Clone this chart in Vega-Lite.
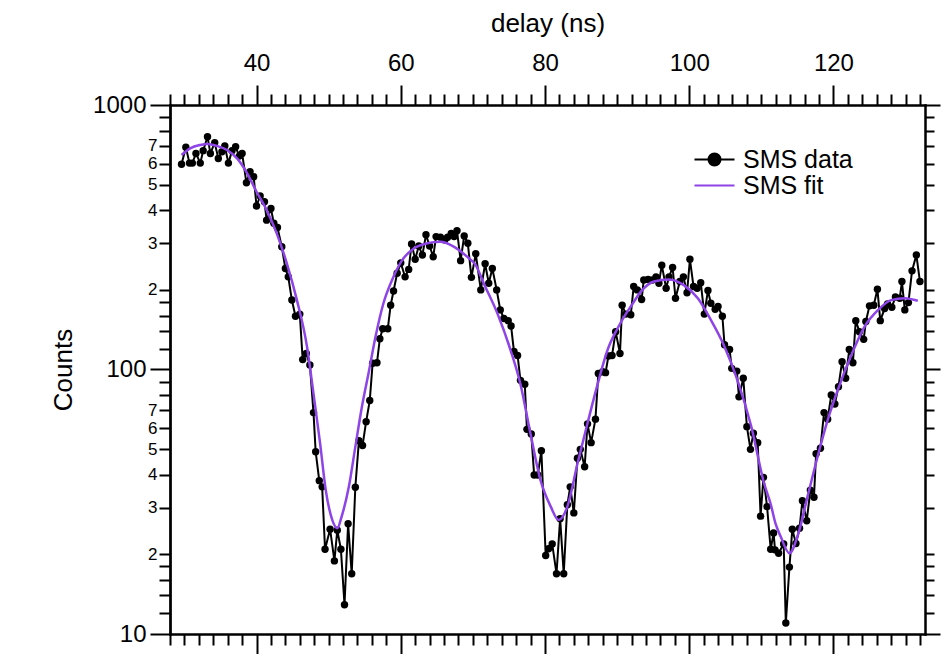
{
  "$schema": "https://vega.github.io/schema/vega-lite/v6.json",
  "width": 755,
  "height": 529,
  "autosize": {"type": "none"},
  "padding": {"left": 170, "top": 105, "right": 20, "bottom": 20},
  "background": "white",
  "datasets": {
    "obs": [
      {"delay": 29.6, "counts": 597}, {"delay": 30.2, "counts": 692}, {"delay": 30.7, "counts": 603}, {"delay": 31.1, "counts": 603},
      {"delay": 31.6, "counts": 656}, {"delay": 32.2, "counts": 603}, {"delay": 32.6, "counts": 672}, {"delay": 33.2, "counts": 759},
      {"delay": 33.6, "counts": 656}, {"delay": 34.2, "counts": 720}, {"delay": 34.7, "counts": 628}, {"delay": 35.2, "counts": 666},
      {"delay": 35.6, "counts": 700}, {"delay": 36.1, "counts": 603}, {"delay": 36.6, "counts": 672}, {"delay": 37.1, "counts": 695},
      {"delay": 37.6, "counts": 641}, {"delay": 38.0, "counts": 656}, {"delay": 38.6, "counts": 508}, {"delay": 39.1, "counts": 560},
      {"delay": 39.6, "counts": 536}, {"delay": 40.0, "counts": 415}, {"delay": 40.5, "counts": 453}, {"delay": 41.1, "counts": 431},
      {"delay": 41.4, "counts": 367}, {"delay": 42.0, "counts": 406}, {"delay": 42.4, "counts": 357}, {"delay": 42.9, "counts": 344},
      {"delay": 43.5, "counts": 291}, {"delay": 44.0, "counts": 241}, {"delay": 44.4, "counts": 224}, {"delay": 44.9, "counts": 183},
      {"delay": 45.4, "counts": 159}, {"delay": 46.0, "counts": 162}, {"delay": 46.4, "counts": 109}, {"delay": 46.9, "counts": 115},
      {"delay": 47.4, "counts": 104}, {"delay": 47.9, "counts": 68.7}, {"delay": 48.2, "counts": 48.9}, {"delay": 48.7, "counts": 38},
      {"delay": 49.1, "counts": 36}, {"delay": 49.5, "counts": 20.9}, {"delay": 50.2, "counts": 24.9}, {"delay": 50.8, "counts": 18.9},
      {"delay": 51.2, "counts": 24.7}, {"delay": 51.7, "counts": 20.9}, {"delay": 52.2, "counts": 12.9}, {"delay": 52.7, "counts": 26.1},
      {"delay": 53.2, "counts": 16.9}, {"delay": 53.7, "counts": 35.9}, {"delay": 54.2, "counts": 53.8}, {"delay": 54.7, "counts": 51.6},
      {"delay": 55.2, "counts": 63.5}, {"delay": 55.7, "counts": 76.3}, {"delay": 56.1, "counts": 105.6}, {"delay": 56.7, "counts": 106},
      {"delay": 57.1, "counts": 130.7}, {"delay": 57.5, "counts": 142.5}, {"delay": 58.2, "counts": 142.5}, {"delay": 58.6, "counts": 175},
      {"delay": 59.0, "counts": 198}, {"delay": 59.5, "counts": 231}, {"delay": 60.0, "counts": 253}, {"delay": 60.6, "counts": 224},
      {"delay": 61.1, "counts": 239}, {"delay": 61.5, "counts": 298}, {"delay": 62.0, "counts": 261}, {"delay": 62.5, "counts": 293},
      {"delay": 63.0, "counts": 271}, {"delay": 63.5, "counts": 323}, {"delay": 64.0, "counts": 293}, {"delay": 64.5, "counts": 267},
      {"delay": 64.9, "counts": 318}, {"delay": 65.5, "counts": 316}, {"delay": 66.1, "counts": 309}, {"delay": 66.5, "counts": 316},
      {"delay": 67.0, "counts": 327}, {"delay": 67.4, "counts": 318}, {"delay": 67.8, "counts": 335}, {"delay": 68.3, "counts": 258},
      {"delay": 68.8, "counts": 320}, {"delay": 69.3, "counts": 300}, {"delay": 69.8, "counts": 223}, {"delay": 70.4, "counts": 274},
      {"delay": 71.1, "counts": 200}, {"delay": 71.7, "counts": 251}, {"delay": 72.2, "counts": 212}, {"delay": 72.7, "counts": 241},
      {"delay": 73.3, "counts": 200}, {"delay": 73.8, "counts": 168}, {"delay": 74.3, "counts": 156}, {"delay": 74.9, "counts": 153},
      {"delay": 75.3, "counts": 146}, {"delay": 75.7, "counts": 117}, {"delay": 76.2, "counts": 113}, {"delay": 76.6, "counts": 91},
      {"delay": 77.2, "counts": 88}, {"delay": 77.5, "counts": 59.4}, {"delay": 78.1, "counts": 57}, {"delay": 78.5, "counts": 39.9},
      {"delay": 79.0, "counts": 39.9}, {"delay": 79.5, "counts": 49.3}, {"delay": 80.1, "counts": 19.8}, {"delay": 80.5, "counts": 21},
      {"delay": 81.0, "counts": 21.9}, {"delay": 81.6, "counts": 16.9}, {"delay": 82.1, "counts": 27.3}, {"delay": 82.6, "counts": 16.9},
      {"delay": 83.1, "counts": 30.8}, {"delay": 83.5, "counts": 36}, {"delay": 84.0, "counts": 28.7}, {"delay": 84.5, "counts": 46.2},
      {"delay": 84.9, "counts": 49.9}, {"delay": 85.5, "counts": 42.9}, {"delay": 85.9, "counts": 62.3}, {"delay": 86.4, "counts": 52.9},
      {"delay": 87.0, "counts": 64.9}, {"delay": 87.4, "counts": 96.6}, {"delay": 88.0, "counts": 98}, {"delay": 88.4, "counts": 97.3},
      {"delay": 88.8, "counts": 112.4}, {"delay": 89.3, "counts": 113}, {"delay": 89.8, "counts": 139}, {"delay": 90.4, "counts": 115},
      {"delay": 90.7, "counts": 175}, {"delay": 91.2, "counts": 162}, {"delay": 91.9, "counts": 161}, {"delay": 92.3, "counts": 206},
      {"delay": 92.8, "counts": 200}, {"delay": 93.4, "counts": 184}, {"delay": 93.7, "counts": 218}, {"delay": 94.3, "counts": 219},
      {"delay": 94.9, "counts": 218}, {"delay": 95.4, "counts": 224}, {"delay": 95.8, "counts": 212}, {"delay": 96.2, "counts": 248},
      {"delay": 96.8, "counts": 203}, {"delay": 97.2, "counts": 224}, {"delay": 97.7, "counts": 243}, {"delay": 98.1, "counts": 186},
      {"delay": 98.7, "counts": 215}, {"delay": 99.2, "counts": 224}, {"delay": 99.7, "counts": 195}, {"delay": 100.1, "counts": 261},
      {"delay": 100.6, "counts": 206}, {"delay": 101.1, "counts": 203}, {"delay": 101.6, "counts": 213}, {"delay": 102.1, "counts": 162},
      {"delay": 102.6, "counts": 199}, {"delay": 103.0, "counts": 178}, {"delay": 103.6, "counts": 169}, {"delay": 104.0, "counts": 173},
      {"delay": 104.6, "counts": 159}, {"delay": 104.9, "counts": 124}, {"delay": 105.6, "counts": 119}, {"delay": 105.9, "counts": 101},
      {"delay": 106.6, "counts": 98.6}, {"delay": 106.9, "counts": 78.8}, {"delay": 107.5, "counts": 92.7}, {"delay": 108.0, "counts": 60.8},
      {"delay": 108.5, "counts": 49.9}, {"delay": 108.9, "counts": 57.4}, {"delay": 109.5, "counts": 52.9}, {"delay": 109.9, "counts": 27.9},
      {"delay": 110.3, "counts": 39.1}, {"delay": 110.8, "counts": 30.3}, {"delay": 111.3, "counts": 20.9}, {"delay": 111.7, "counts": 24.1},
      {"delay": 111.9, "counts": 20.8}, {"delay": 112.4, "counts": 20.2}, {"delay": 113.1, "counts": 21.9}, {"delay": 113.4, "counts": 11},
      {"delay": 113.9, "counts": 17.9}, {"delay": 114.3, "counts": 24.9}, {"delay": 114.8, "counts": 22}, {"delay": 115.3, "counts": 25.1},
      {"delay": 115.7, "counts": 31.9}, {"delay": 116.3, "counts": 26.8}, {"delay": 116.8, "counts": 35}, {"delay": 117.3, "counts": 32.9},
      {"delay": 117.6, "counts": 48}, {"delay": 118.2, "counts": 50.4}, {"delay": 118.7, "counts": 68.7}, {"delay": 119.2, "counts": 64.9},
      {"delay": 119.7, "counts": 80.1}, {"delay": 120.2, "counts": 74.1}, {"delay": 120.7, "counts": 86.1}, {"delay": 121.2, "counts": 107},
      {"delay": 121.7, "counts": 92.7}, {"delay": 122.2, "counts": 119}, {"delay": 122.7, "counts": 106}, {"delay": 123.1, "counts": 153},
      {"delay": 123.6, "counts": 139}, {"delay": 124.2, "counts": 130}, {"delay": 124.5, "counts": 152}, {"delay": 125.0, "counts": 174},
      {"delay": 125.6, "counts": 175}, {"delay": 126.1, "counts": 201}, {"delay": 126.5, "counts": 153}, {"delay": 127.1, "counts": 170},
      {"delay": 127.5, "counts": 177}, {"delay": 128.1, "counts": 172}, {"delay": 128.6, "counts": 188}, {"delay": 129.2, "counts": 186},
      {"delay": 129.5, "counts": 215}, {"delay": 129.9, "counts": 168}, {"delay": 130.4, "counts": 179}, {"delay": 130.9, "counts": 236},
      {"delay": 131.5, "counts": 271}, {"delay": 132.0, "counts": 215}
    ],
    "fit": [
      {"delay": 29.6, "counts": 647}, {"delay": 30.8, "counts": 686}, {"delay": 32.2, "counts": 706}, {"delay": 33.2, "counts": 712},
      {"delay": 34.5, "counts": 700}, {"delay": 35.9, "counts": 676}, {"delay": 37.3, "counts": 628}, {"delay": 38.7, "counts": 552},
      {"delay": 40.0, "counts": 470}, {"delay": 41.4, "counts": 401}, {"delay": 42.8, "counts": 327}, {"delay": 44.2, "counts": 252},
      {"delay": 45.6, "counts": 183}, {"delay": 47.0, "counts": 122}, {"delay": 47.9, "counts": 81}, {"delay": 48.8, "counts": 53},
      {"delay": 49.6, "counts": 35}, {"delay": 50.5, "counts": 27}, {"delay": 51.2, "counts": 25.1}, {"delay": 51.8, "counts": 27.8},
      {"delay": 52.8, "counts": 36}, {"delay": 53.7, "counts": 51}, {"delay": 54.6, "counts": 72}, {"delay": 55.6, "counts": 99},
      {"delay": 56.5, "counts": 133}, {"delay": 57.6, "counts": 178}, {"delay": 58.8, "counts": 218}, {"delay": 60.2, "counts": 259},
      {"delay": 61.8, "counts": 287}, {"delay": 63.7, "counts": 300}, {"delay": 65.5, "counts": 304}, {"delay": 67.4, "counts": 291},
      {"delay": 69.2, "counts": 267}, {"delay": 70.4, "counts": 248}, {"delay": 71.5, "counts": 212}, {"delay": 73.4, "counts": 163},
      {"delay": 75.2, "counts": 119}, {"delay": 76.6, "counts": 88}, {"delay": 78.0, "counts": 57}, {"delay": 79.4, "counts": 38},
      {"delay": 80.8, "counts": 30.3}, {"delay": 81.9, "counts": 27}, {"delay": 83.1, "counts": 30.3}, {"delay": 84.5, "counts": 44},
      {"delay": 85.9, "counts": 62.6}, {"delay": 87.3, "counts": 88}, {"delay": 88.7, "counts": 119}, {"delay": 90.0, "counts": 142},
      {"delay": 91.2, "counts": 162}, {"delay": 91.9, "counts": 173}, {"delay": 93.3, "counts": 197}, {"delay": 95.1, "counts": 215},
      {"delay": 97.2, "counts": 219}, {"delay": 99.3, "counts": 208}, {"delay": 101.2, "counts": 186}, {"delay": 103.0, "counts": 154},
      {"delay": 104.9, "counts": 122}, {"delay": 106.7, "counts": 91}, {"delay": 108.6, "counts": 61}, {"delay": 110.4, "counts": 37},
      {"delay": 111.3, "counts": 31}, {"delay": 112.0, "counts": 26}, {"delay": 112.7, "counts": 23.3}, {"delay": 113.9, "counts": 20.2},
      {"delay": 115.0, "counts": 23.3}, {"delay": 116.4, "counts": 33}, {"delay": 117.8, "counts": 46.8}, {"delay": 119.2, "counts": 64.4},
      {"delay": 120.6, "counts": 83.6}, {"delay": 122.4, "counts": 112}, {"delay": 124.3, "counts": 145}, {"delay": 126.2, "counts": 168},
      {"delay": 128.0, "counts": 183}, {"delay": 129.9, "counts": 186}, {"delay": 131.7, "counts": 182}
    ]
  },
  "layer": [
    {
      "data": {"name": "obs"},
      "mark": {"type": "line", "strokeWidth": 2, "point": {"filled": true, "size": 55}},
      "encoding": {
        "x": {"field": "delay", "type": "quantitative", "scale": {"domain": [28, 132.7], "nice": false, "zero": false},
          "axis": {"orient": "top", "values": [40, 60, 80, 100, 120], "tickSize": 20, "labelPadding": 10, "title": "delay (ns)", "titlePadding": 15, "titleFontSize": 26}},
        "y": {"field": "counts", "type": "quantitative", "scale": {"type": "log", "domain": [10, 1000], "nice": false},
          "axis": {"orient": "left", "values": [10, 100, 1000], "format": "d", "tickSize": 20, "labelPadding": 4, "title": "Counts", "titlePadding": 16, "titleFontSize": 26}},
        "color": {"datum": "SMS data", "type": "nominal",
          "scale": {"domain": ["SMS data", "SMS fit"], "range": ["#000000", "#8E44E6"]},
          "legend": {"orient": "none", "legendX": 532, "legendY": 42, "title": null, "labelFontSize": 25, "labelFont": "Liberation Sans",
            "symbolSize": 100, "symbolStrokeWidth": 2, "labelOffset": 16, "rowPadding": 0, "padding": 0,
            "encode": {"symbols": {"update": {
              "shape": {"signal": "datum.value === 'SMS data' ? 'M-4,0H4M1.2,0A1.2,1.2,0,1,1,-1.2,0A1.2,1.2,0,1,1,1.2,0Z' : 'M-4,0H4'"},
              "fill": {"signal": "datum.value === 'SMS data' ? '#000000' : 'transparent'"}
            }}}}}
      }
    },
    {
      "data": {"name": "fit"},
      "mark": {"type": "line", "strokeWidth": 2.5, "interpolate": "monotone"},
      "encoding": {
        "x": {"field": "delay", "type": "quantitative", "scale": {"domain": [28, 132.7], "nice": false, "zero": false},
          "axis": {"orient": "top", "values": [28, 30, 32, 34, 36, 38, 42, 44, 46, 48, 50, 52, 54, 56, 58, 62, 64, 66, 68, 70, 72, 74, 76, 78, 82, 84, 86, 88, 90, 92, 94, 96, 98, 102, 104, 106, 108, 110, 112, 114, 116, 118, 122, 124, 126, 128, 130, 132], "tickSize": 11, "labels": false, "title": null}},
        "y": {"field": "counts", "type": "quantitative", "scale": {"type": "log", "domain": [10, 1000], "nice": false},
          "axis": {"orient": "left", "values": [20, 30, 40, 50, 60, 70, 200, 300, 400, 500, 600, 700], "tickSize": 11, "labelFontSize": 17, "labelPadding": 2, "labelExpr": "substring(datum.label, 0, 1)", "title": null}},
        "color": {"datum": "SMS fit", "type": "nominal"}
      }
    },
    {
      "data": {"name": "fit"},
      "mark": {"type": "line", "opacity": 0},
      "encoding": {
        "x": {"field": "delay", "type": "quantitative", "scale": {"domain": [28, 132.7], "nice": false, "zero": false},
          "axis": {"orient": "bottom", "values": [40, 60, 80, 100, 120], "tickSize": 20, "labels": false, "title": null}},
        "y": {"field": "counts", "type": "quantitative", "scale": {"type": "log", "domain": [10, 1000], "nice": false},
          "axis": {"orient": "left", "values": [12, 14, 16, 18, 80, 90, 120, 140, 160, 180, 800, 900], "tickSize": 11, "labels": false, "title": null}}
      }
    },
    {
      "data": {"name": "fit"},
      "mark": {"type": "line", "opacity": 0},
      "encoding": {
        "x": {"field": "delay", "type": "quantitative", "scale": {"domain": [28, 132.7], "nice": false, "zero": false},
          "axis": {"orient": "bottom", "values": [28, 30, 32, 34, 36, 38, 42, 44, 46, 48, 50, 52, 54, 56, 58, 62, 64, 66, 68, 70, 72, 74, 76, 78, 82, 84, 86, 88, 90, 92, 94, 96, 98, 102, 104, 106, 108, 110, 112, 114, 116, 118, 122, 124, 126, 128, 130, 132], "tickSize": 11, "labels": false, "title": null}},
        "y": {"field": "counts", "type": "quantitative", "scale": {"type": "log", "domain": [10, 1000], "nice": false},
          "axis": {"orient": "right", "values": [12, 14, 16, 18, 20, 30, 40, 50, 60, 70, 80, 90, 120, 140, 160, 180, 200, 300, 400, 500, 600, 700, 800, 900], "tickSize": 9, "labels": false, "title": null}}
      }
    },
    {
      "data": {"name": "fit"},
      "mark": {"type": "line", "opacity": 0},
      "encoding": {
        "x": {"field": "delay", "type": "quantitative", "scale": {"domain": [28, 132.7], "nice": false, "zero": false}, "axis": null},
        "y": {"field": "counts", "type": "quantitative", "scale": {"type": "log", "domain": [10, 1000], "nice": false},
          "axis": {"orient": "right", "values": [10, 100, 1000], "tickSize": 15, "labels": false, "title": null}}
      }
    }
  ],
  "resolve": {"axis": {"x": "independent", "y": "independent"}},
  "config": {
    "view": {"stroke": null},
    "font": "Liberation Sans",
    "axis": {"domainColor": "black", "tickColor": "black", "domainWidth": 2, "tickWidth": 2, "grid": false,
      "labelColor": "black", "titleColor": "black", "labelFont": "Liberation Sans", "titleFont": "Liberation Sans",
      "labelFontSize": 24, "titleFontSize": 24, "titleFontWeight": "normal", "labelOverlap": false, "labelFlush": false, "domainCap": "square"},
    "legend": {"labelColor": "black"}
  }
}
